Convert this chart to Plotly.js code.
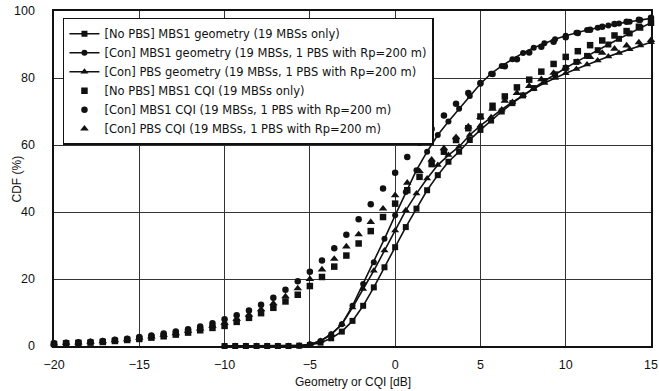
<!DOCTYPE html>
<html>
<head>
<meta charset="utf-8">
<script src="https://cdn.plot.ly/plotly-3.0.1.min.js"></script>
<style>html,body{margin:0;padding:0;background:#fff;}</style>
</head>
<body>
<div id="chart" style="width:659px;height:391px;"></div>
<script>
// Geometry curves (x in dB)
const geoX = [-10, -9.375, -8.75, -8.125, -7.5, -6.875, -6.25, -5.625, -5, -4.375, -3.75, -3.125, -2.5, -1.875, -1.25, -0.625, 0, 0.625, 1.25, 1.875, 2.5, 3.125, 3.75, 4.375, 5, 5.625, 6.25, 6.875, 7.5, 8.125, 8.75, 9.375, 10, 10.625, 11.25, 11.875, 12.5, 13.125, 13.75, 14.375, 15];
const geoNoPbsMbs1 = [0, 0, 0, 0, 0, 0, 0, 0.1, 0.3, 1.0, 2.3, 4.3, 7.5, 12, 17.5, 23.5, 29.5, 35.5, 41, 46.5, 51, 55, 58, 61.5, 64.5, 67.3, 70, 72.5, 74.8, 77, 79.1, 81.1, 83, 84.8, 86.6, 88.3, 90, 91.7, 93.3, 95, 96.5];
const geoConMbs1 = [0, 0, 0, 0, 0, 0, 0, 0.1, 0.5, 1.5, 3.5, 6.5, 12, 18.5, 25, 32, 39, 46, 52.5, 58, 63, 67, 70.8, 74.6, 78.3, 81.3, 83.6, 85.6, 87.5, 89, 90.4, 91.6, 92.6, 93.5, 94.3, 95, 95.7, 96.3, 96.8, 97.3, 97.8];
const geoConPbs = [0, 0, 0, 0, 0, 0, 0, 0.1, 0.5, 1.5, 3.5, 6.5, 11.5, 17, 22.5, 28.5, 34.5, 40.5, 45.5, 50, 54, 57, 59.5, 63, 65.8, 68.3, 70.6, 72.8, 74.9, 76.8, 78.5, 80, 81.4, 82.7, 84, 85.2, 86.4, 87.5, 88.6, 89.7, 90.7];

// CQI points (x in dB)
const cqiX = [-20, -19.29, -18.57, -17.86, -17.14, -16.43, -15.71, -15, -14.29, -13.57, -12.86, -12.14, -11.43, -10.71, -10, -9.29, -8.57, -7.86, -7.14, -6.43, -5.71, -5, -4.29, -3.57, -2.86, -2.14, -1.43, -0.71, 0, 0.71, 1.43, 2.14, 2.86, 3.57, 4.29, 5, 5.71, 6.43, 7.14, 7.86, 8.57, 9.29, 10, 10.71, 11.43, 12.14, 12.86, 13.57, 14.29, 15];
const cqiNoPbsMbs1 = [0.6, 0.8, 0.9, 1.0, 1.2, 1.5, 1.8, 2.1, 2.5, 2.9, 3.4, 4.0, 4.7, 5.4, 6.0, 7.2, 8.4, 9.8, 11.4, 13.3, 15.3, 17.9, 20.6, 23.7, 27.0, 30.6, 34.3, 38.5, 42.5, 46.5, 50.5, 54.3, 58.0, 61.5, 65.0, 68.5, 71.7, 74.5, 77.2, 79.5, 81.9, 84.2, 86.3, 88.0, 89.8, 91.2, 92.7, 94.0, 95.3, 96.5];
const cqiConMbs1 = [0.8, 1.0, 1.1, 1.3, 1.5, 1.9, 2.2, 2.7, 3.1, 3.7, 4.3, 5.0, 5.8, 6.8, 8.0, 9.2, 10.6, 12.3, 14.4, 16.8, 19.3, 22.2, 25.5, 29.2, 33.2, 37.8, 42.3, 47.0, 51.7, 56.4, 60.7, 64.8, 68.8, 72.3, 75.5, 78.5, 81.2, 83.5, 85.6, 87.6, 89.3, 90.8, 92.2, 93.4, 94.4, 95.3, 96.1, 96.8, 97.4, 98.0];
const cqiConPbs = [0.7, 0.9, 1.0, 1.2, 1.4, 1.7, 2.0, 2.4, 2.8, 3.3, 3.8, 4.5, 5.2, 6.0, 6.9, 8.0, 9.3, 10.9, 12.7, 14.8, 17.2, 20.0, 22.8, 26.0, 29.7, 33.3, 37.0, 41.0, 45.0, 48.7, 52.2, 55.6, 59.0, 62.3, 65.5, 68.3, 70.8, 73.2, 75.5, 77.6, 79.6, 81.5, 83.2, 84.8, 86.2, 87.5, 88.7, 89.7, 90.6, 91.3];

const names = [
  '[No PBS] MBS1 geometry (19 MBSs only)',
  '[Con] MBS1 geometry (19 MBSs, 1 PBS with Rp=200 m)',
  '[Con] PBS geometry (19 MBSs, 1 PBS with Rp=200 m)',
  '[No PBS] MBS1 CQI (19 MBSs only)',
  '[Con] MBS1 CQI (19 MBSs, 1 PBS with Rp=200 m)',
  '[Con] PBS CQI (19 MBSs, 1 PBS with Rp=200 m)'
];
const xTitle = 'Geometry or CQI [dB]';
const yTitle = 'CDF (%)';

const ink = '#111';
function geo(y, name, sym, size) {
  return {x: geoX, y: y, name: name, type: 'scatter', mode: 'lines+markers', cliponaxis: false,
    line: {color: ink, width: 1.6}, marker: {symbol: sym, size: size, color: ink}};
}
function cqi(y, name, sym, size) {
  return {x: cqiX, y: y, name: name, type: 'scatter', mode: 'markers', cliponaxis: false,
    marker: {symbol: sym, size: size, color: ink}};
}

const data = [
  geo(geoNoPbsMbs1, names[0], 'square', 6),
  geo(geoConMbs1, names[1], 'circle', 6),
  geo(geoConPbs, names[2], 'triangle-up', 7),
  cqi(cqiNoPbsMbs1, names[3], 'square', 6.5),
  cqi(cqiConMbs1, names[4], 'circle', 6.5),
  cqi(cqiConPbs, names[5], 'triangle-up', 7.5)
];

const layout = {
  width: 659, height: 391,
  margin: {l: 54, r: 8, t: 11, b: 45},
  paper_bgcolor: '#fff', plot_bgcolor: '#fff',
  font: {family: '"Liberation Sans", Arial, sans-serif', size: 13, color: ink},
  showlegend: true,
  legend: {x: 0.015, y: 0.98, xanchor: 'left', yanchor: 'top', bgcolor: '#fff',
    bordercolor: ink, borderwidth: 1.5, tracegroupgap: 0, itemwidth: 30,
    font: {family: '"DejaVu Sans", sans-serif', size: 11.5, color: ink}},
  xaxis: {range: [-20, 15], tick0: -20, dtick: 5, showgrid: true, gridcolor: '#333', gridwidth: 1,
    zeroline: false, showline: true, mirror: true, linecolor: ink, linewidth: 1.6, ticks: '',
    ticklabelstandoff: 6, tickfont: {size: 12.5}},
  yaxis: {range: [0, 100], dtick: 20, showgrid: true, gridcolor: '#333', gridwidth: 1,
    zeroline: false, showline: true, mirror: true, linecolor: ink, linewidth: 1.6, ticks: '',
    ticklabelstandoff: 15, tickfont: {size: 12.5}},
  annotations: [
    {text: xTitle, xref: 'paper', yref: 'paper', x: 0.5, y: -0.108, xanchor: 'center', yanchor: 'middle',
      showarrow: false, font: {size: 12, color: ink}},
    {text: yTitle, xref: 'paper', yref: 'paper', x: -0.062, y: 0.5, xanchor: 'center', yanchor: 'middle',
      textangle: -90, showarrow: false, font: {size: 12, color: ink}}
  ]
};

Plotly.newPlot('chart', data, layout, {staticPlot: true, displayModeBar: false});
</script>
</body>
</html>
